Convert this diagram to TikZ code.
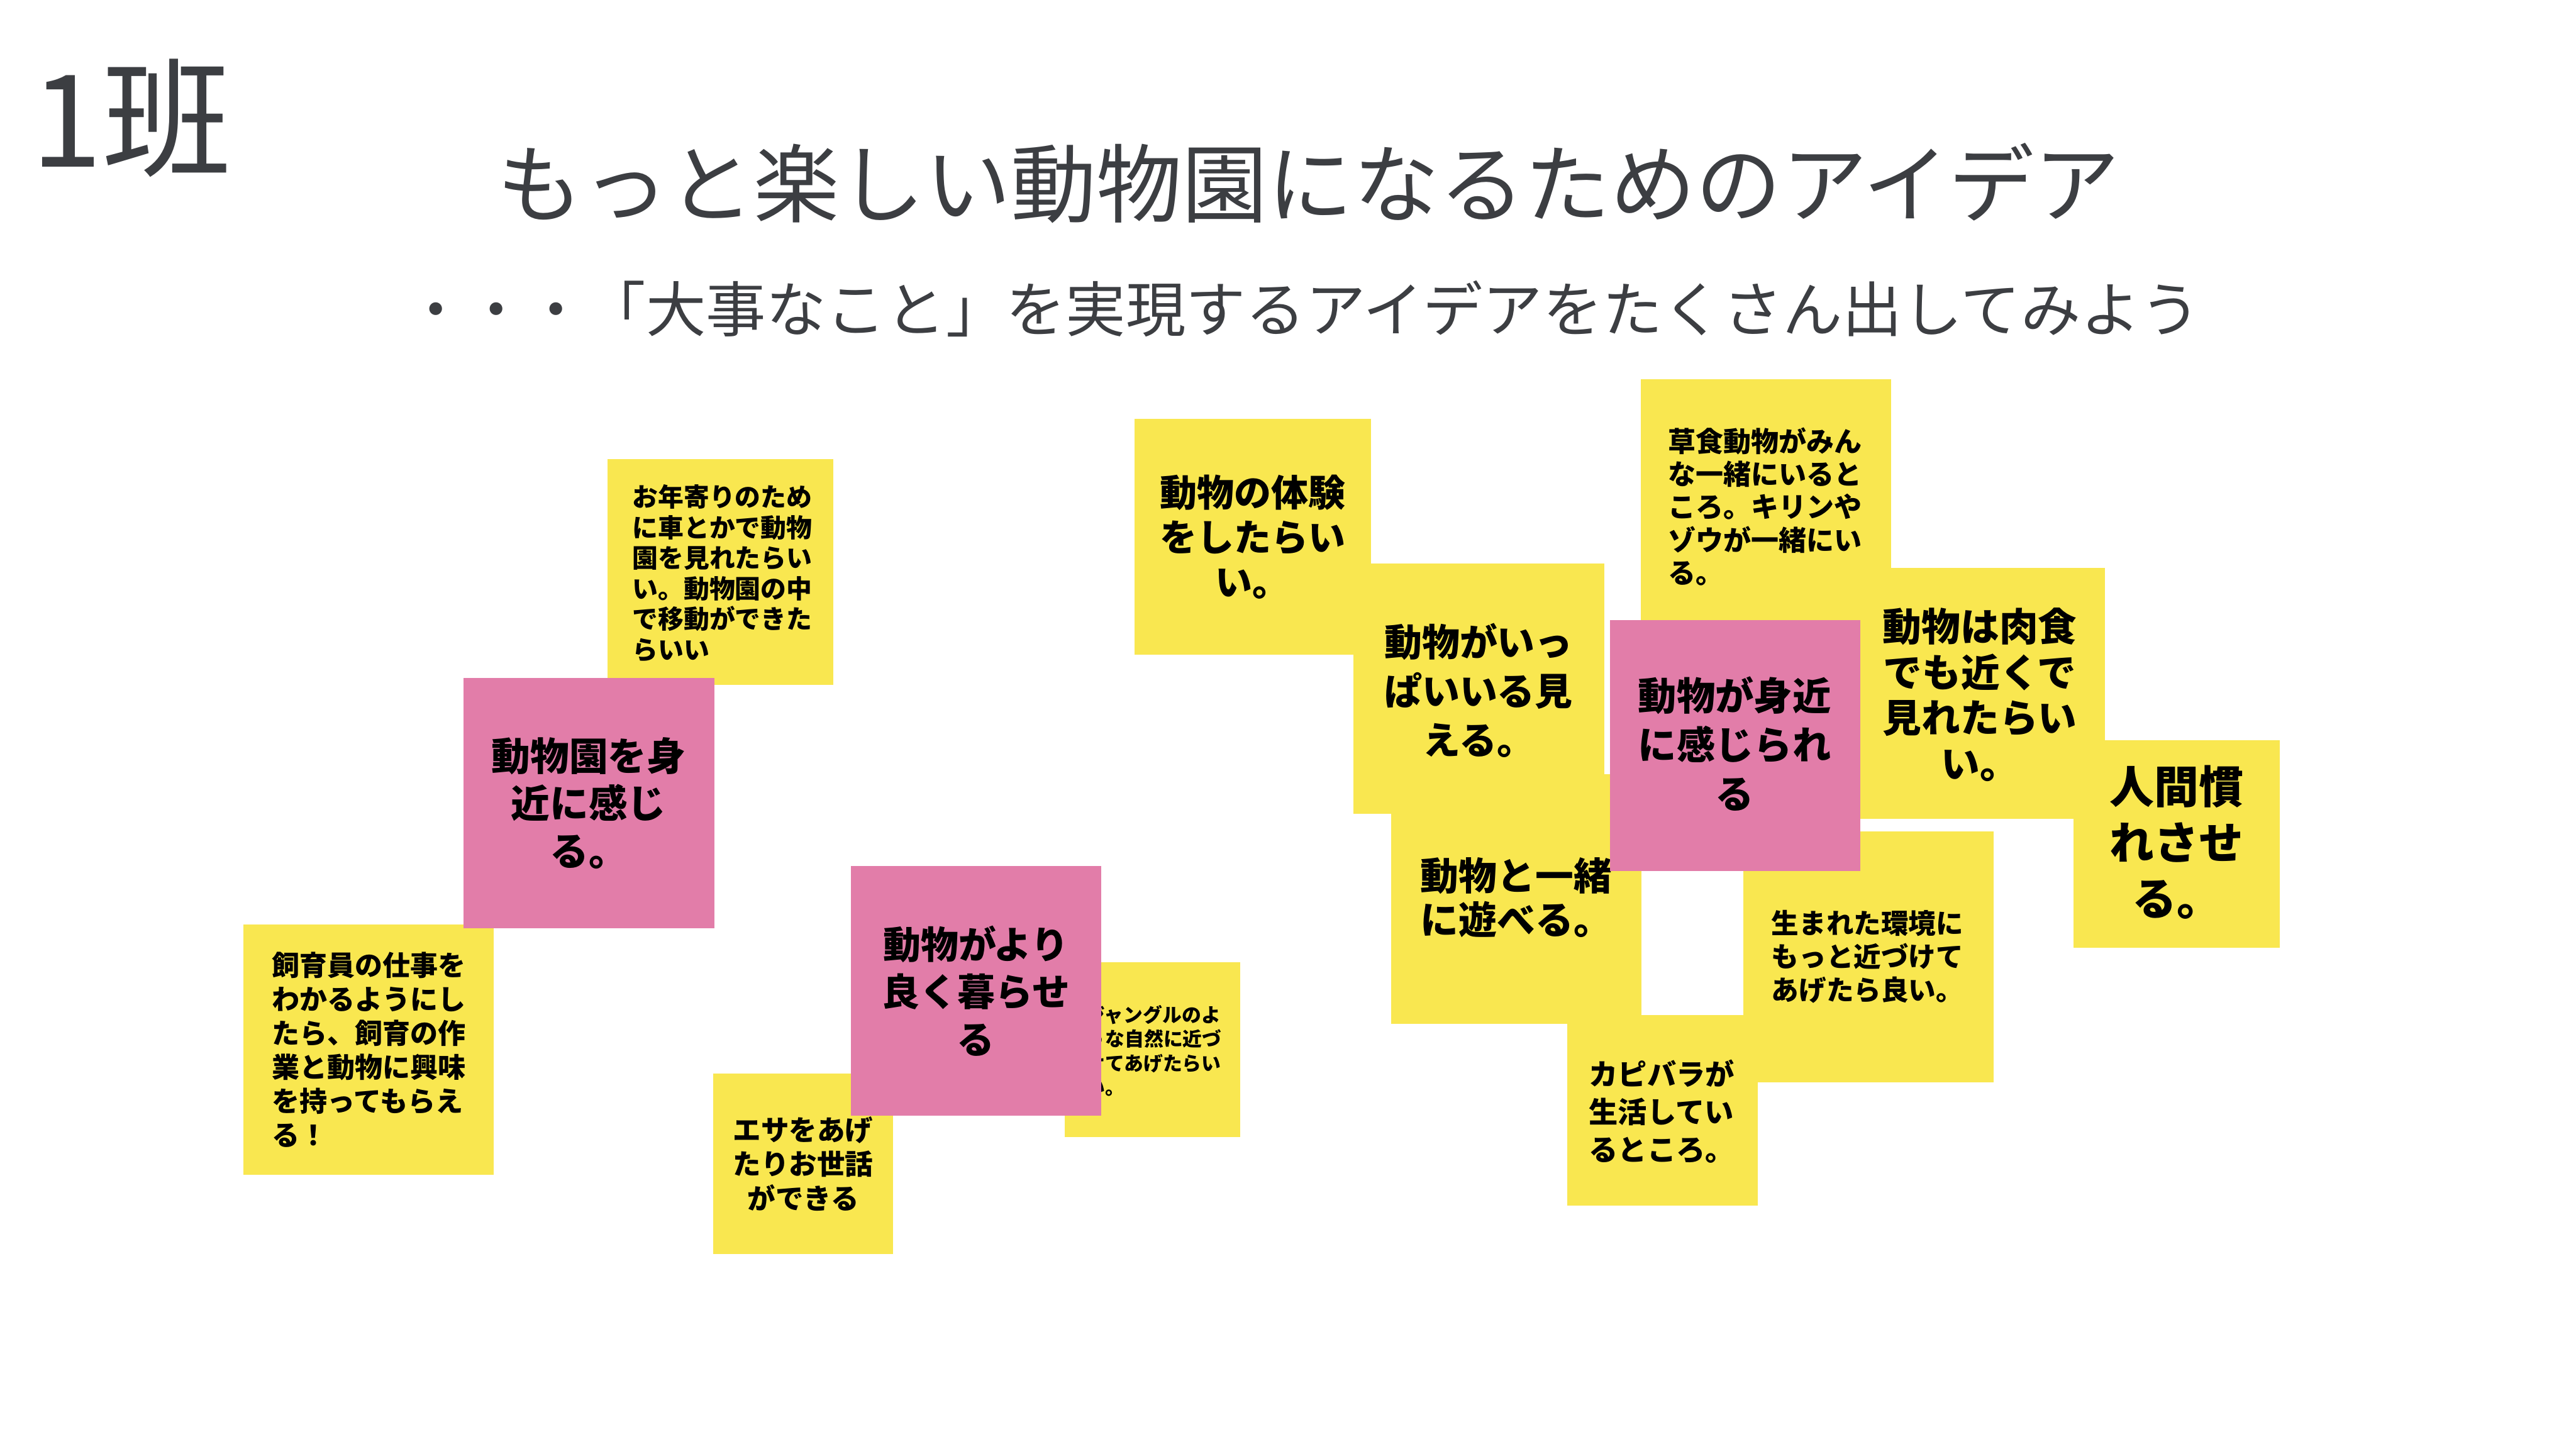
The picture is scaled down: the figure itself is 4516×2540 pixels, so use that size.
\documentclass[tikz,border=0pt]{standalone}
\usepackage{fontspec}
\newfontfamily\jp{Noto Sans CJK JP}
\definecolor{stickyY}{HTML}{F9E750}
\definecolor{stickyP}{HTML}{E27DA9}
\definecolor{headgrey}{HTML}{3C3E42}
\newcommand{\fsz}[2]{\fontsize{#1pt}{#2pt}\selectfont}
\tikzset{
  ynote/.style={fill=stickyY},
  pnote/.style={fill=stickyP},
  ntext/.style={inner sep=0pt, text=black},
  ctext/.style={ntext, align=center, anchor=center},
  ltext/.style={ntext, align=left, anchor=west},
  head/.style={inner sep=0pt, text=headgrey}
}
\begin{document}
\begin{tikzpicture}[x=0.01cm,y=-0.01cm]
\useasboundingbox[fill=white] (0,0) rectangle (4516,2540);

% headings
\node[head, font={\jp\fsz{64}{70}}] (klass) at (230,207) {1班};
\node[head, font={\jp\fsz{42.7}{48}}] (title) at (2294,321) {もっと楽しい動物園になるためのアイデア};
\node[head, font={\jp\fsz{29.9}{34}}] (subtitle) at (2285,541) {・・・「大事なこと」を実現するアイデアをたくさん出してみよう};

% ---- yellow notes ----
\fill[ynote] (1065,805) rectangle (1461,1201);
\node[ltext, font={\jp\bfseries\fsz{12.8}{15.2}}] (oldtxt) at (1108,1005) {お年寄りのため\\に車とかで動物\\園を見れたらい\\い。動物園の中\\で移動ができた\\らいい};

\fill[ynote] (427,1621) rectangle (866,2060);
\node[ltext, font={\jp\bfseries\fsz{13.8}{16.9}}] (keepertxt) at (476,1840) {飼育員の仕事を\\わかるようにし\\たら、飼育の作\\業と動物に興味\\を持ってもらえ\\る！};

\fill[ynote] (1250,1882) rectangle (1566,2198);
\node[ctext, font={\jp\bfseries\fsz{13.94}{17.07}}] (feedtxt) at (1408,2040) {エサをあげ\\たりお世話\\ができる};

\fill[ynote] (1867,1687) rectangle (2174,1993);
\node[ltext, font={\jp\bfseries\fsz{9.67}{11.95}}] (jungletxt) at (1903,1842) {ジャングルのよ\\うな自然に近づ\\けてあげたらい\\い。};

\fill[ynote] (1989,734) rectangle (2403,1148);
\node[ctext, font={\jp\bfseries\fsz{18.5}{22.2}}] (exptxt) at (2196,941) {動物の体験\\をしたらい\\い。};

\fill[ynote] (2439,1357) rectangle (2878,1795);
\node[ctext, font={\jp\bfseries\fsz{19.06}{21.9}}] (playtxt) at (2658,1573) {動物と一緒\\に遊べる。};

\fill[ynote] (2373,988) rectangle (2812,1427);
\node[ctext, font={\jp\bfseries\fsz{18.78}{24.47}}] (manytxt) at (2592,1210) {動物がいっ\\ぱいいる見\\える。};

\fill[ynote] (2876,665) rectangle (3315,1104);
\node[ltext, font={\jp\bfseries\fsz{13.8}{16.36}}] (herbtxt) at (2924,888) {草食動物がみん\\な一緒にいると\\ころ。キリンや\\ゾウが一緒にい\\る。};

\fill[ynote] (3251,996) rectangle (3690,1435);
\node[ctext, font={\jp\bfseries\fsz{19.35}{22.76}}] (carntxt) at (3471,1218) {動物は肉食\\でも近くで\\見れたらい\\い。};

\fill[ynote] (3635,1298) rectangle (3997,1661);
\node[ctext, font={\jp\bfseries\fsz{22.2}{27.9}}] (tametxt) at (3816,1476) {人間慣\\れさせ\\る。};

\fill[ynote] (3056,1458) rectangle (3495,1897);
\node[ltext, font={\jp\bfseries\fsz{13.66}{16.65}}] (envtxt) at (3105,1677) {生まれた環境に\\もっと近づけて\\あげたら良い。};

\fill[ynote] (2748,1780) rectangle (3081,2113);
\node[ltext, font={\jp\bfseries\fsz{14.5}{18.78}}] (capytxt) at (2785,1949) {カピバラが\\生活してい\\るところ。};

% ---- pink notes ----
\fill[pnote] (813,1189) rectangle (1252,1627);
\node[ctext, font={\jp\bfseries\fsz{19.35}{23.6}}] (closezoo) at (1032,1408) {動物園を身\\近に感じ\\る。};

\fill[pnote] (1492,1518) rectangle (1930,1956);
\node[ctext, font={\jp\bfseries\fsz{18.78}{23.6}}] (betterlife) at (1711,1737) {動物がより\\良く暮らせ\\る};

\fill[pnote] (2822,1087) rectangle (3261,1527);
\node[ctext, font={\jp\bfseries\fsz{19.23}{24.47}}] (closeanimal) at (3041,1304) {動物が身近\\に感じられ\\る};
\end{tikzpicture}
\end{document}
